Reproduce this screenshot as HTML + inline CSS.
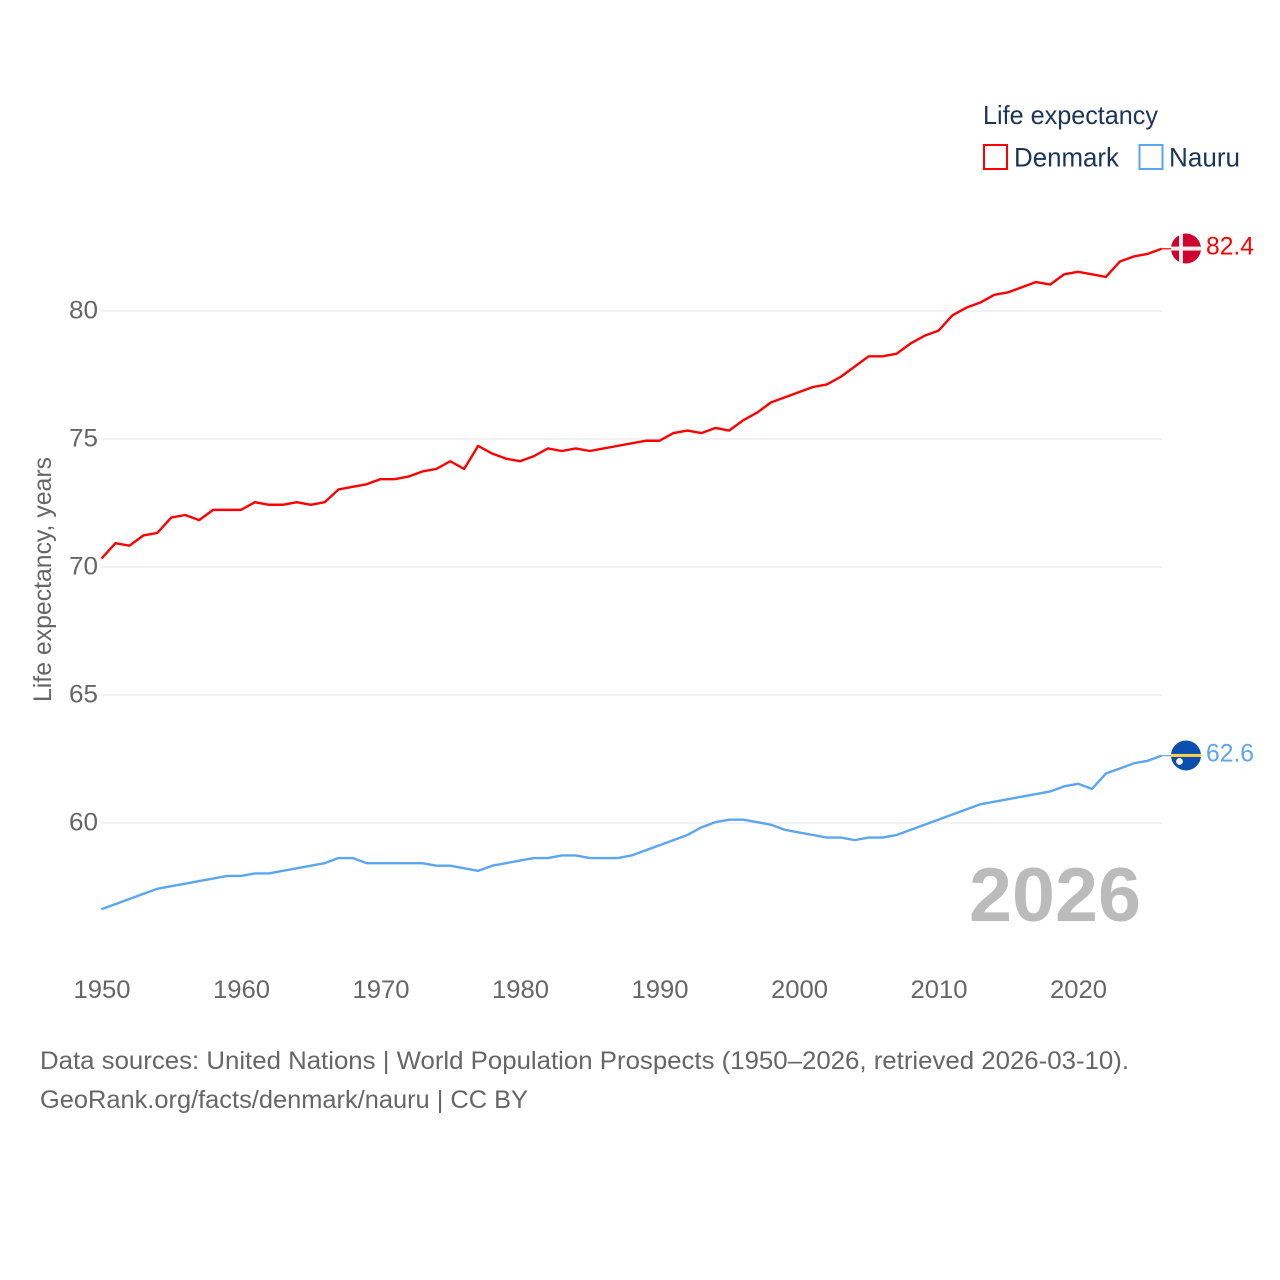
<!DOCTYPE html>
<html lang="en">
<head>
<meta charset="utf-8">
<title>Life expectancy: Denmark and Nauru</title>
<style>
html,body{margin:0;padding:0;background:#fff;}
svg{display:block;}
text{font-family:"Liberation Sans",sans-serif;}
</style>
</head>
<body>
<svg id="chart" xmlns="http://www.w3.org/2000/svg" width="1280" height="1280" viewBox="0 0 1280 1280">
  <rect x="0" y="0" width="1280" height="1280" fill="#ffffff"/>
  <g id="grid"></g>
  <g id="yticks"></g>
  <g id="xticks"></g>
  <text transform="translate(51,702) rotate(-90)" font-size="25" fill="#666666" textLength="245" lengthAdjust="spacingAndGlyphs">Life expectancy, years</text>
  <g id="series"></g>
  <text x="969" y="921" font-size="76" font-weight="700" fill="#bbbbbb" textLength="172" lengthAdjust="spacingAndGlyphs">2026</text>
  <g>
    <text x="983" y="124" font-size="26" fill="#1a3557" textLength="175" lengthAdjust="spacingAndGlyphs">Life expectancy</text>
    <g>
      <rect x="984" y="145" width="23" height="24" fill="#ffffff" stroke="#ff0000" stroke-width="2"/>
      <text x="1014" y="166.500" font-size="27" fill="#1a3557" textLength="105" lengthAdjust="spacingAndGlyphs">Denmark</text>
    </g>
    <g>
      <rect x="1139.500" y="145" width="23" height="24" fill="#ffffff" stroke="#5ba6ef" stroke-width="2"/>
      <text x="1169" y="166.500" font-size="27" fill="#1a3557" textLength="71" lengthAdjust="spacingAndGlyphs">Nauru</text>
    </g>
  </g>
  <g id="end-markers"></g>
  <text x="40" y="1069" font-size="25" fill="#666666" textLength="1089" lengthAdjust="spacingAndGlyphs">Data sources: United Nations | World Population Prospects (1950–2026, retrieved 2026-03-10).</text>
  <text x="40" y="1108" font-size="25" fill="#666666" textLength="488" lengthAdjust="spacingAndGlyphs">GeoRank.org/facts/denmark/nauru | CC BY</text>
</svg>
<script>
const startYear = 1950;
const denmarkValues = [70.3,70.9,70.8,71.2,71.3,71.9,72.0,71.8,72.2,72.2,72.2,72.5,72.4,72.4,72.5,72.4,72.5,73.0,73.1,73.2,73.4,73.4,73.5,73.7,73.8,74.1,73.8,74.7,74.4,74.2,74.1,74.3,74.6,74.5,74.6,74.5,74.6,74.7,74.8,74.9,74.9,75.2,75.3,75.2,75.4,75.3,75.7,76.0,76.4,76.6,76.8,77.0,77.1,77.4,77.8,78.2,78.2,78.3,78.7,79.0,79.2,79.8,80.1,80.3,80.6,80.7,80.9,81.1,81.0,81.4,81.5,81.4,81.3,81.9,82.1,82.2,82.4];
const nauruValues = [56.6,56.8,57.0,57.2,57.4,57.5,57.6,57.7,57.8,57.9,57.9,58.0,58.0,58.1,58.2,58.3,58.4,58.6,58.6,58.4,58.4,58.4,58.4,58.4,58.3,58.3,58.2,58.1,58.3,58.4,58.5,58.6,58.6,58.7,58.7,58.6,58.6,58.6,58.7,58.9,59.1,59.3,59.5,59.8,60.0,60.1,60.1,60.0,59.9,59.7,59.6,59.5,59.4,59.4,59.3,59.4,59.4,59.5,59.7,59.9,60.1,60.3,60.5,60.7,60.8,60.9,61.0,61.1,61.2,61.4,61.5,61.3,61.9,62.1,62.3,62.4,62.6];
const yTickValues = [60,65,70,75,80];
const xTickValues = [1950,1960,1970,1980,1990,2000,2010,2020];

const NS = 'http://www.w3.org/2000/svg';
const xScale = year => 101.5 + (year - 1950) * 13.95;
const yScale = value => 823 - (value - 60) * 25.6;
const lineY = value => yScale(value) - 0.8;
const make = (parent, tag) => parent.appendChild(document.createElementNS(NS, tag));
const put = (el, attrs) => { Object.keys(attrs).forEach(k => el.setAttribute(k, attrs[k])); return el; };

const grid = document.getElementById('grid');
const yticks = document.getElementById('yticks');
yTickValues.forEach(v => {
  const line = put(make(grid, 'line'), {x1: xScale(1950), x2: xScale(2026), y1: yScale(v), y2: yScale(v), stroke: '#eeeeee', 'stroke-width': 1.6});
  
  
  const label = put(make(yticks, 'text'), {x: 98, y: yScale(v) + 7.5, 'text-anchor': 'end', 'font-size': 25, fill: '#666666', textLength: 29, lengthAdjust: 'spacingAndGlyphs'});
  label.textContent = v;
  
  
});

const xticks = document.getElementById('xticks');
xTickValues.forEach(y => {
  const label = put(make(xticks, 'text'), {x: xScale(y) + 0.5, y: 998, 'text-anchor': 'middle', 'font-size': 25, fill: '#666666', textLength: 57, lengthAdjust: 'spacingAndGlyphs'});
  label.textContent = y;
  
  
});

const seriesGroup = document.getElementById('series');
const markers = document.getElementById('end-markers');
const pathFor = vals => vals.map((v, i) => (i ? 'L' : 'M') + xScale(startYear + i).toFixed(2) + ' ' + lineY(v).toFixed(2)).join('');
const lastX = vals => xScale(startYear + vals.length - 1);
const lastY = vals => lineY(vals[vals.length - 1]);
const MARK_X = 1186;
const MARK_R = 15;

/* Denmark */
const denmarkLine = put(make(seriesGroup, 'path'), {d: pathFor(denmarkValues), fill: 'none', stroke: '#ff0000', 'stroke-width': 2.4, 'stroke-linejoin': 'round'});


const denmarkLead = put(make(seriesGroup, 'line'), {x1: lastX(denmarkValues), x2: MARK_X - MARK_R, y1: lastY(denmarkValues), y2: lastY(denmarkValues), stroke: '#ff0000', 'stroke-width': 1.2});



const dkY = lastY(denmarkValues) - 0.2;
const dkFlag = make(markers, 'g');


put(make(dkFlag, 'circle'), {cx: MARK_X, cy: dkY, r: MARK_R, fill: '#d0002f'});
const dkClip = put(make(dkFlag, 'clipPath'), {id: 'dk-clip'});
put(make(dkClip, 'circle'), {cx: MARK_X, cy: dkY, r: MARK_R});
put(make(dkFlag, 'rect'), {x: MARK_X - 15, y: dkY - 2, width: 30, height: 4, fill: '#eeeeee', 'clip-path': 'url(#dk-clip)'});
put(make(dkFlag, 'rect'), {x: MARK_X - 7, y: dkY - 15, width: 4, height: 30, fill: '#eeeeee', 'clip-path': 'url(#dk-clip)'});
const dkLabel = put(make(markers, 'text'), {x: 1206, y: dkY + 6, 'font-size': 25, fill: '#ff0000', textLength: 48, lengthAdjust: 'spacingAndGlyphs'});
dkLabel.textContent = denmarkValues[denmarkValues.length - 1].toFixed(1);



/* Nauru */
const nauruLine = put(make(seriesGroup, 'path'), {d: pathFor(nauruValues), fill: 'none', stroke: '#5ba6ef', 'stroke-width': 2.4, 'stroke-linejoin': 'round'});


const nauruLead = put(make(seriesGroup, 'line'), {x1: lastX(nauruValues), x2: MARK_X - MARK_R, y1: lastY(nauruValues), y2: lastY(nauruValues), stroke: '#5ba6ef', 'stroke-width': 1.2});



const nrY = lastY(nauruValues) - 0.2;
const nrFlag = make(markers, 'g');


put(make(nrFlag, 'circle'), {cx: MARK_X, cy: nrY, r: MARK_R, fill: '#0a4fae'});
put(make(nrFlag, 'rect'), {x: MARK_X - 15, y: nrY - 1.5, width: 30, height: 3, fill: '#ffd045'});
put(make(nrFlag, 'circle'), {cx: MARK_X - 6.5, cy: nrY + 6, r: 3.4, fill: '#f2f2f2'});
const nrLabel = put(make(markers, 'text'), {x: 1206, y: nrY + 6, 'font-size': 25, fill: '#5ba6ef', textLength: 48, lengthAdjust: 'spacingAndGlyphs'});
nrLabel.textContent = nauruValues[nauruValues.length - 1].toFixed(1);


</script>
</body>
</html>
